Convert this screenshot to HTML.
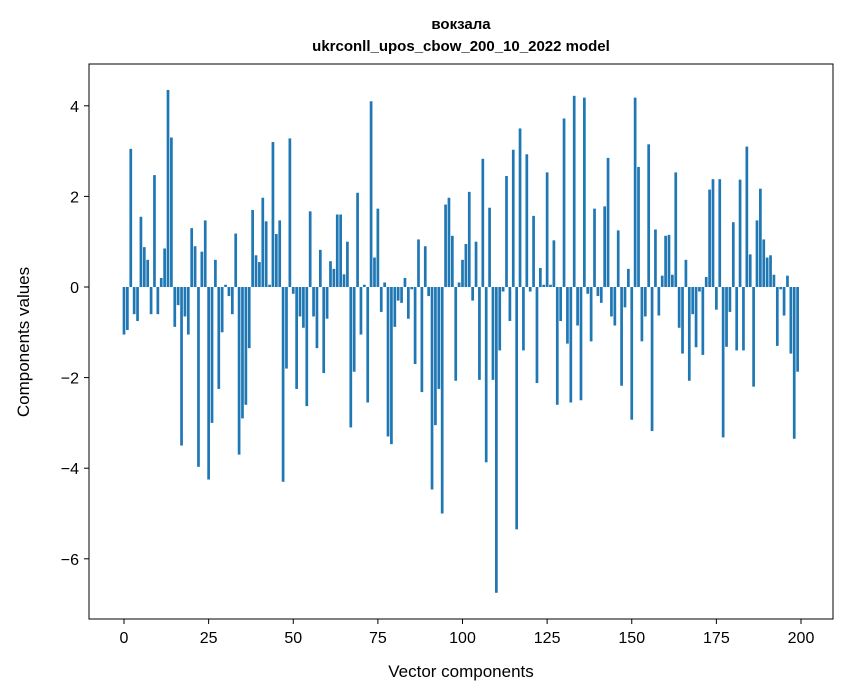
<!DOCTYPE html>
<html><head><meta charset="utf-8"><style>
body{margin:0;background:#fff;}
svg{display:block;font-family:"Liberation Sans","DejaVu Sans",sans-serif;}
</style></head><body>
<svg id="chart" width="847" height="696" viewBox="0 0 847 696">
<text x="461" y="29" text-anchor="middle" font-size="15" font-weight="bold">вокзала</text>
<text x="461" y="51" text-anchor="middle" font-size="15" font-weight="bold">ukrconll_upos_cbow_200_10_2022 model</text>
<g id="bars"></g>
<g id="axes"></g>
<rect x="89" y="64" width="744" height="555" fill="none" stroke="#000" stroke-width="1"/>
<text x="461" y="677" text-anchor="middle" font-size="17">Vector components</text>
<text transform="translate(29,342) rotate(-90)" text-anchor="middle" font-size="17">Components values</text>
</svg>
<script>
const values = [-1.05,-0.95,3.05,-0.6,-0.75,1.55,0.88,0.6,-0.6,2.47,
-0.6,0.2,0.85,4.35,3.3,-0.88,-0.4,-3.5,-0.65,-1.05,
1.3,0.9,-3.97,0.78,1.47,-4.25,-3.0,0.6,-2.25,-1.0,
0.05,-0.2,-0.6,1.18,-3.7,-2.9,-2.6,-1.35,1.7,0.7,
0.55,1.97,1.45,0.05,3.2,1.17,1.47,-4.3,-1.8,3.28,
-0.15,-2.25,-0.65,-0.9,-2.63,1.67,-0.65,-1.35,0.82,-1.9,
-0.7,0.57,0.4,1.6,1.6,0.28,1.0,-3.1,-1.87,2.08,
-1.05,0.05,-2.55,4.1,0.65,1.73,-0.55,0.1,-3.3,-3.47,
-0.88,-0.3,-0.35,0.2,-0.7,-0.05,-1.7,1.05,-2.32,0.9,
-0.2,-4.47,-3.05,-2.25,-5.0,1.82,1.97,1.13,-2.07,0.1,
0.6,0.95,2.1,-0.3,1.0,-2.05,2.83,-3.87,1.75,-2.05,
-6.75,-1.4,-0.1,2.45,-0.75,3.03,-5.35,3.5,-1.4,2.93,
-0.1,1.57,-2.12,0.42,0.05,2.53,0.05,1.03,-2.6,-0.75,
3.72,-1.25,-2.55,4.22,-0.85,-2.5,4.18,-0.15,-1.2,1.73,
-0.2,-0.35,1.78,2.85,-0.65,-0.85,1.25,-2.18,-0.45,0.4,
-2.93,4.18,2.65,-1.2,-0.65,3.15,-3.18,1.27,-0.63,0.25,
1.13,1.15,0.27,2.53,-0.9,-1.47,0.6,-2.07,-0.6,-1.33,
-0.1,-1.5,0.22,2.15,2.38,-0.5,2.38,-3.32,-1.32,-0.55,
1.43,-1.4,2.37,-1.4,3.1,0.72,-2.2,1.47,2.17,1.05,
0.65,0.7,0.27,-1.3,-0.05,-0.63,0.25,-1.47,-3.35,-1.87];
const xTicks = [0,25,50,75,100,125,150,175,200];
const yTicks = [-6,-4,-2,0,2,4];
const yTickLabels = ["\u22126","\u22124","\u22122","0","2","4"];

const NS="http://www.w3.org/2000/svg";
const xs = v => 124 + v*3.385;
const ys = v => 287 - v*45.3;
const bars=document.getElementById('bars');
values.forEach((v,i)=>{
  const r=document.createElementNS(NS,'rect');
  const w=0.8*3.385;
  r.setAttribute('x',xs(i)-w/2);
  r.setAttribute('width',w);
  r.setAttribute('y',Math.min(ys(v),ys(0)));
  r.setAttribute('height',Math.abs(ys(v)-ys(0)));
  r.setAttribute('fill','#1f77b4');
  
  
  bars.appendChild(r);
});
const axes=document.getElementById('axes');
xTicks.forEach(t=>{
  const l=document.createElementNS(NS,'line');
  l.setAttribute('x1',xs(t));l.setAttribute('x2',xs(t));
  l.setAttribute('y1',619);l.setAttribute('y2',624);
  l.setAttribute('stroke','#000');
  
  
  axes.appendChild(l);
  const tx=document.createElementNS(NS,'text');
  tx.setAttribute('x',xs(t));tx.setAttribute('y',643);
  tx.setAttribute('text-anchor','middle');tx.setAttribute('font-size','16');
  tx.textContent=t;
  
  
  axes.appendChild(tx);
});
yTicks.forEach((t,i)=>{
  const l=document.createElementNS(NS,'line');
  l.setAttribute('x1',84);l.setAttribute('x2',89);
  l.setAttribute('y1',ys(t));l.setAttribute('y2',ys(t));
  l.setAttribute('stroke','#000');
  
  
  axes.appendChild(l);
  const tx=document.createElementNS(NS,'text');
  tx.setAttribute('x',79);tx.setAttribute('y',ys(t)+6);
  tx.setAttribute('text-anchor','end');tx.setAttribute('font-size','16');
  tx.textContent=yTickLabels[i];
  
  
  axes.appendChild(tx);
});
</script>
</body></html>
